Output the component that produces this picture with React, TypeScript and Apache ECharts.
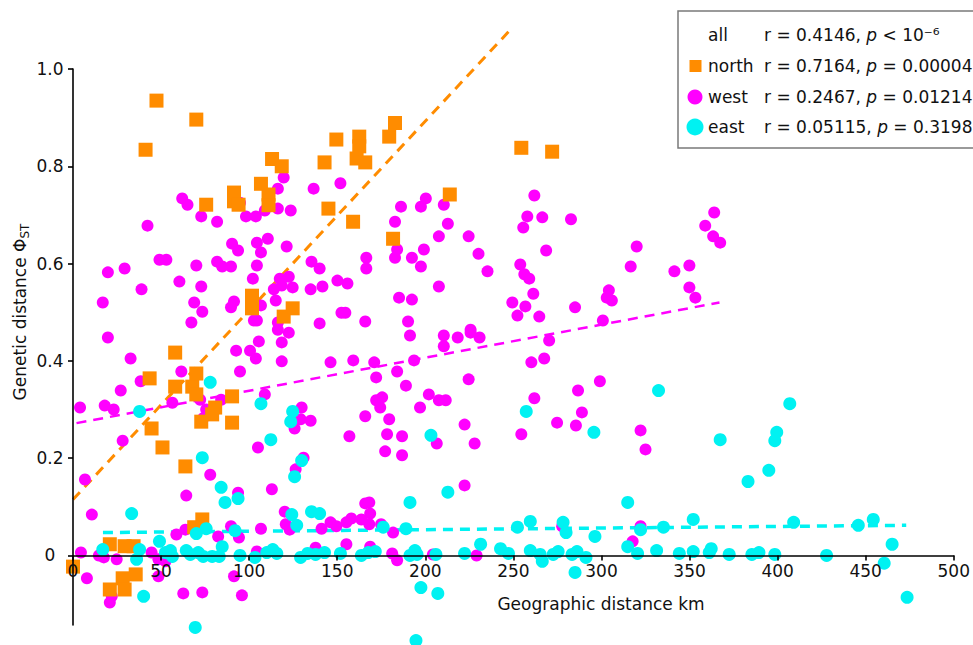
import React, { useEffect, useRef } from "react";
import * as echarts from "echarts";

const F = "DejaVu Sans";

// north (orange squares): [geographic km, PhiST]
const northPoints: number[][] = [
  [47.4, 0.935], [70, 0.896], [41.2, 0.834], [75.6, 0.721], [91.4, 0.746], [91.4, 0.728], [94, 0.721],
  [106.7, 0.764], [113, 0.815], [118.5, 0.8], [111, 0.742], [111, 0.72], [101.6, 0.534], [101.6, 0.508],
  [124.7, 0.508], [119.6, 0.491], [182.8, 0.889], [149.5, 0.855], [162.5, 0.861], [162.5, 0.841],
  [179.5, 0.861], [142.8, 0.808], [161, 0.816], [165.9, 0.808], [254.5, 0.838], [213.9, 0.742],
  [145, 0.713], [159, 0.686], [181.7, 0.651], [272, 0.83], [58, 0.417], [43.5, 0.364], [58, 0.347],
  [67.7, 0.347], [70, 0.374], [70, 0.331], [90.3, 0.327], [80.7, 0.304], [79, 0.29], [72.8, 0.275],
  [90.3, 0.273], [44.6, 0.261], [50.8, 0.222], [63.8, 0.183], [73.4, 0.074], [68.8, 0.058], [20.9, 0.023],
  [29.3, 0.019], [34.4, 0.019], [0, -0.023], [28.2, -0.047], [35.6, -0.039], [20.9, -0.07], [29.3, -0.07],
];

// west (magenta circles)
const westPoints: number[][] = [
  [119.6, 0.777], [116.3, 0.754], [62, 0.734], [65, 0.721], [94.8, 0.725], [72.8, 0.697], [81.8, 0.686],
  [98.2, 0.697], [103.8, 0.697], [108.9, 0.709], [116.3, 0.713], [123.6, 0.709], [42.3, 0.678], [110.6, 0.651],
  [90.3, 0.641], [93.7, 0.627], [104.4, 0.643], [106.7, 0.623], [121.3, 0.635], [49.1, 0.608], [53, 0.608],
  [19.8, 0.582], [29.3, 0.59], [70, 0.596], [81.8, 0.604], [84.7, 0.594], [89.7, 0.594], [104.4, 0.596],
  [38.9, 0.547], [60.4, 0.563], [72.8, 0.553], [102.1, 0.569], [117.4, 0.569], [122.5, 0.573], [118.5, 0.555],
  [114, 0.547], [124.7, 0.551], [16.9, 0.52], [68.8, 0.52], [115.1, 0.524],
  [73.4, 0.501], [67.2, 0.479], [19.8, 0.448], [89.7, 0.51], [91.4, 0.522], [106.7, 0.514], [102.7, 0.483],
  [104.4, 0.483], [105.5, 0.44], [92.6, 0.421], [100.5, 0.421], [103.8, 0.405], [94.8, 0.378], [116.3, 0.479],
  [116.3, 0.464], [122.5, 0.458], [118.5, 0.438], [118.5, 0.399], [32.7, 0.405], [38.4, 0.358], [27.1, 0.339],
  [61.5, 0.378], [4, 0.304], [18, 0.308], [23.1, 0.3], [56.4, 0.314], [72.2, 0.32], [75.6, 0.3], [73.9, 0.282],
  [84.1, 0.32], [108.9, 0.331], [28.2, 0.236], [6.8, 0.156], [10.7, 0.084], [77.9, 0.166], [64.3, 0.123],
  [93.7, 0.129], [105, 0.222], [112.9, 0.136], [125.8, 0.261], [129.8, 0.304], [129.2, 0.28], [126.4, 0.177],
  [120.2, 0.09], [120.8, 0.064], [123, 0.053], [58.7, 0.043], [63.8, 0.053], [82.4, 0.039], [89.7, 0.06],
  [94.2, 0.037], [106.7, 0.055], [4.5, 0.006],
  [14.7, 0], [17.5, -0.004], [24.8, -0.008], [44.6, 0.006], [48.5, -0.008], [52.5, -0.012], [7.9, -0.047],
  [48.5, -0.043], [22, -0.084], [20.9, -0.097], [62.6, -0.078], [73.4, -0.076], [91.4, -0.043], [95.9, -0.082],
  [136.6, 0.754], [151.8, 0.765], [200.3, 0.734], [186.2, 0.717], [197.5, 0.717], [210.5, 0.721], [261.9, 0.74],
  [182.8, 0.686], [212.8, 0.682], [257.9, 0.697], [255.6, 0.674], [207.7, 0.656], [224.6, 0.656], [184, 0.629],
  [182.8, 0.612], [192.4, 0.612], [199.2, 0.629], [197.5, 0.594], [230.2, 0.62], [235.3, 0.584], [135.4, 0.604],
  [140, 0.59], [166.5, 0.612], [166.5, 0.59], [134.9, 0.547], [141.6, 0.553], [150.1, 0.565], [155.8, 0.559],
  [207.7, 0.553], [185.1, 0.53], [192.4, 0.526], [152.4, 0.499], [154.6, 0.499], [140, 0.477], [165.9, 0.481],
  [190.2, 0.481], [253.9, 0.598], [256.2, 0.578], [259, 0.569], [261.3, 0.538], [249.4, 0.52], [252.3, 0.493],
  [256.8, 0.512], [225.7, 0.464],
  [266.4, 0.695], [282.7, 0.691], [268.6, 0.627], [364, 0.705], [358.9, 0.678], [363.4, 0.656], [367.4, 0.643],
  [320, 0.635], [316.6, 0.594], [341.4, 0.584], [349.9, 0.596], [349.9, 0.551], [353.3, 0.53], [304.2, 0.545],
  [303, 0.53], [305.9, 0.524], [264.7, 0.491], [285, 0.51], [300.8, 0.483], [270.3, 0.442],
  [191.3, 0.452], [210.5, 0.452], [210.5, 0.43], [218.4, 0.448], [225.7, 0.458], [230.8, 0.448], [146.2, 0.397],
  [159.1, 0.401], [171, 0.397], [172.1, 0.366], [193.6, 0.401], [184, 0.378], [189, 0.349], [224.6, 0.362],
  [260.2, 0.397], [261.9, 0.323], [172.1, 0.319], [175.5, 0.325], [174.4, 0.304], [202, 0.331], [207.7, 0.319],
  [211.6, 0.319], [197, 0.304], [134.9, 0.277], [165.9, 0.286], [179.5, 0.28], [178.3, 0.249], [186.8, 0.245],
  [156.9, 0.245], [177.2, 0.214], [186.8, 0.206], [206.5, 0.23], [222.3, 0.269], [228, 0.23], [254.5, 0.249],
  [130.9, 0.201], [222.3, 0.144], [165.9, 0.107], [168.2, 0.109], [168.7, 0.086], [163.7, 0.074], [168.2, 0.064],
  [158, 0.076], [155.2, 0.068], [146.2, 0.068], [149.5, 0.06], [141.1, 0.055], [174.9, 0.064], [181.7, 0.047],
  [155.2, 0.023], [137.7, 0.016], [168.7, 0.018], [181.2, 0.004], [184, -0.01], [204.3, 0.002], [229.1, 0],
  [104.4, 0.008],
  [267.5, 0.405], [299.1, 0.358], [286.7, 0.339], [288.9, 0.294], [274.8, 0.273], [285.5, 0.267], [322.2, 0.257],
  [325, 0.218], [277.7, 0.06], [322.2, 0.06], [317.7, 0.029],
];

// east (cyan circles)
const eastPoints: number[][] = [
  [77.9, 0.356], [37.8, 0.296], [106.7, 0.312], [124.7, 0.296], [123.6, 0.275], [112.3, 0.238], [73.4, 0.201],
  [129.8, 0.195], [125.8, 0.162], [84.1, 0.14], [86.3, 0.109], [93.7, 0.117], [33.3, 0.086], [124.2, 0.084],
  [127, 0.062], [70, 0.045], [75.6, 0.055], [92, 0.051], [49.1, 0.029], [84.7, 0.018], [16.9, 0.012],
  [37.8, 0.012], [36.1, -0.008], [52.5, 0.006], [55.3, 0.01], [56.4, -0.002], [64.3, 0.01], [66.6, 0.002],
  [71.1, 0.006], [73.9, -0.002], [79, -0.002], [83, -0.002], [94.8, 0], [40.1, -0.084], [69.4, -0.148],
  [257.3, 0.296], [203.2, 0.247], [212.8, 0.13], [191.3, 0.109], [135.4, 0.09], [140, 0.086], [176.1, 0.058],
  [189, 0.055], [252.3, 0.058], [259.6, 0.07], [231.4, 0.023], [242.7, 0.014], [247.2, 0.004], [259.6, 0.01],
  [103.3, -0.004], [110, 0.006], [113.4, 0.012], [115.7, 0.004], [129.2, -0.004], [133.2, 0.004], [137.7, 0.002],
  [142.8, 0.006], [151.8, 0.004], [163.7, 0], [167.6, 0.006], [171.6, 0.008], [191.3, 0], [194.1, 0.01],
  [195.3, 0.002], [206, 0.002], [222.3, 0.004], [265.2, 0.002], [266.4, -0.012], [272.6, 0.002], [275.4, 0.008],
  [283.3, 0.002], [286.1, 0.008], [291.2, -0.004], [285, -0.035], [314.9, 0.018], [320.5, 0.004], [331.3, 0.01],
  [344.2, 0.004], [352.1, 0.008], [361.2, 0.006], [362.3, 0.014], [197.5, -0.066], [207.1, -0.078], [194.7, -0.175],
  [332.4, 0.339], [295.7, 0.253], [367.4, 0.238], [383.2, 0.152], [314.9, 0.109], [278.2, 0.068], [279.9, 0.047],
  [296.3, 0.039], [322.2, 0.053], [335.2, 0.058], [352.1, 0.074],
  [409.1, 0.068], [445.8, 0.062], [454.3, 0.074], [465, 0.023], [460.5, -0.016], [473.5, -0.086], [372.5, 0.002],
  [385.4, 0.002], [389.4, 0.006], [398.4, 0.002], [427.8, 0],
  [406.9, 0.312], [399.5, 0.253], [398.4, 0.236], [395, 0.175],
];

// regression lines (end points)
const northLine: number[][] = [[0, 0.115], [249.4, 1.085]];
const westLine: number[][] = [[2, 0.272], [367, 0.52]];
const eastLine: number[][] = [[17, 0.047], [473, 0.062]];

const yTicks = [0, 0.2, 0.4, 0.6, 0.8, 1.0];
const xTicks = [0, 50, 100, 150, 200, 250, 300, 350, 400, 450, 500];

const legendRows = [
  { name: "all", r: "0.4146", rel: "<", p: "10⁻⁶", marker: "none", color: "" },
  { name: "north", r: "0.7164", rel: "=", p: "0.00004", marker: "square", color: "#ff8c00" },
  { name: "west", r: "0.2467", rel: "=", p: "0.01214", marker: "circle", color: "#ff00ff" },
  { name: "east", r: "0.05115", rel: "=", p: "0.3198", marker: "circleBig", color: "#00f2f2" },
];

const ORANGE = "#ff8c00";
const MAGENTA = "#ff00ff";
const CYAN = "#00f2f2";

const Y_MIN = -0.143;
const Y_MAX = 1.0;
const GRID_TOP = 69;
const GRID_BOTTOM = 20;
const H = 645;

export default function App() {
  const ref = useRef<HTMLDivElement>(null);
  useEffect(() => {
    if (!ref.current) return;
    const chart = echarts.init(ref.current, undefined, { renderer: "svg" });

    // offset that brings the x axis (line, ticks, labels) up to y = 0
    const plotH = H - GRID_TOP - GRID_BOTTOM;
    const zeroFromBottom = ((0 - Y_MIN) / (Y_MAX - Y_MIN)) * plotH;

    const legendGraphics: any[] = [
      {
        type: "rect",
        shape: { x: 678, y: 11, width: 310, height: 137 },
        style: { fill: "#fff", stroke: "#7a7a7a", lineWidth: 1.5 },
        z: 100,
      },
    ];
    const rowY = [35, 66, 97, 127];
    legendRows.forEach((row, i) => {
      const y = rowY[i];
      if (row.marker === "square") {
        legendGraphics.push({ type: "rect", shape: { x: 689.5, y: y - 6, width: 12, height: 12 }, style: { fill: row.color }, z: 101 });
      } else if (row.marker === "circle") {
        legendGraphics.push({ type: "circle", shape: { cx: 695, cy: y, r: 7.5 }, style: { fill: row.color }, z: 101 });
      } else if (row.marker === "circleBig") {
        legendGraphics.push({ type: "circle", shape: { cx: 695, cy: y, r: 8.5 }, style: { fill: row.color }, z: 101 });
      }
      legendGraphics.push({
        type: "text",
        x: 708,
        y,
        z: 101,
        style: { text: row.name, fontSize: 17, fontFamily: F, fill: "#111", verticalAlign: "middle", align: "left" },
      });
      legendGraphics.push({
        type: "text",
        x: 764,
        y,
        z: 101,
        style: {
          text: `{t|r = ${row.r}, }{i|p}{t| ${row.rel} ${row.p}}`,
          fontSize: 17,
          fontFamily: F,
          fill: "#111",
          verticalAlign: "middle",
          align: "left",
          rich: {
            t: { fontSize: 17, fontFamily: F, fill: "#111" },
            i: { fontSize: 17, fontFamily: F, fontStyle: "italic", fill: "#111" },
          },
        },
      });
    });

    const dashed = (data: number[][], color: string, width: number) => ({
      type: "line",
      data,
      symbol: "none",
      showSymbol: false,
      clip: false,
      silent: true,
      z: 1,
      lineStyle: { color, width, type: [10, 7] },
    });

    const option: any = {
      animation: false,
      grid: { left: 73, right: 14, top: GRID_TOP, bottom: GRID_BOTTOM, containLabel: false },
      xAxis: {
        type: "value",
        min: 0,
        max: 500,
        interval: 50,
        offset: -zeroFromBottom,
        z: 10,
        axisLine: { onZero: false, lineStyle: { color: "#000", width: 1.6 } },
        axisTick: { show: true, length: 5, customValues: xTicks, lineStyle: { color: "#000", width: 1.6 } },
        axisLabel: { customValues: xTicks, color: "#111", fontSize: 17, fontFamily: F, margin: 7 },
        splitLine: { show: false },
      },
      yAxis: {
        type: "value",
        min: Y_MIN,
        max: Y_MAX,
        z: 10,
        axisLine: { show: true, onZero: false, lineStyle: { color: "#000", width: 1.6 } },
        axisTick: { show: true, length: 5, customValues: yTicks, lineStyle: { color: "#000", width: 1.6 } },
        axisLabel: {
          customValues: yTicks,
          color: "#111",
          fontSize: 17,
          fontFamily: F,
          align: "center",
          margin: 23,
          formatter: (v: number) => (Math.abs(v) < 1e-9 ? "0" : v.toFixed(1)),
        },
        splitLine: { show: false },
      },
      graphic: [
        {
          type: "text",
          x: 601,
          y: 604,
          style: { text: "Geographic distance km", fontSize: 17, fontFamily: F, fill: "#111", align: "center", verticalAlign: "middle" },
        },
        {
          type: "text",
          x: 20,
          y: 312,
          rotation: Math.PI / 2,
          style: {
            text: "{a|Genetic distance Φ}{s|ST}",
            fontFamily: F,
            fill: "#111",
            align: "center",
            verticalAlign: "middle",
            rich: {
              a: { fontSize: 17, fontFamily: F, fill: "#111" },
              s: { fontSize: 12, fontFamily: F, fill: "#111", padding: [9, 0, 0, 0] },
            },
          },
        },
        ...legendGraphics,
      ],
      series: [
        dashed(northLine, ORANGE, 3),
        dashed(westLine, MAGENTA, 2.5),
        dashed(eastLine, CYAN, 3.5),
        { type: "scatter", data: westPoints, symbol: "circle", symbolSize: 12, itemStyle: { color: MAGENTA, opacity: 1 }, clip: false, z: 2 },
        { type: "scatter", data: northPoints, symbol: "rect", symbolSize: 14, itemStyle: { color: ORANGE, opacity: 1 }, clip: false, z: 2 },
        { type: "scatter", data: eastPoints, symbol: "circle", symbolSize: 13, itemStyle: { color: CYAN, opacity: 1 }, clip: false, z: 2 },
      ],
    };
    chart.setOption(option);
    return () => chart.dispose();
  }, []);
  return <div ref={ref} style={{ position: "fixed", left: 0, top: 0, width: 973, height: 645, background: "#fff" }} />;
}
